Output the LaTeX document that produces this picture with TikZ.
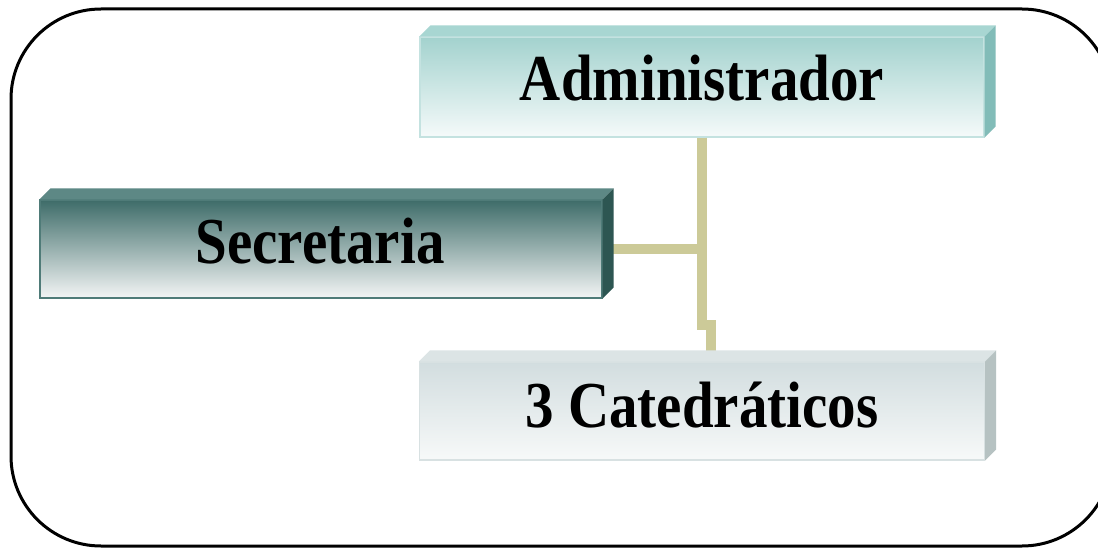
\documentclass[tikz,border=0pt]{standalone}
\usepackage{fontspec}
\setmainfont{Liberation Serif}
\definecolor{connc}{HTML}{CCCA98}
\definecolor{admtop}{HTML}{A3D2CE}
\definecolor{admbot}{HTML}{F5FAFA}
\definecolor{admface}{HTML}{A8D6D2}
\definecolor{admside}{HTML}{82BCB8}
\definecolor{admline}{HTML}{C4E2E0}
\definecolor{sectop}{HTML}{3E6C69}
\definecolor{secbot}{HTML}{F3F5F5}
\definecolor{secface}{HTML}{5D8885}
\definecolor{secside}{HTML}{2D5652}
\definecolor{secline}{HTML}{4F7B78}
\definecolor{cattop}{HTML}{D2DDDF}
\definecolor{catbot}{HTML}{F7F9F9}
\definecolor{catface}{HTML}{DCE4E5}
\definecolor{catside}{HTML}{B6C2C2}
\definecolor{catline}{HTML}{D8E1E2}
\newcommand\boxfaces[3]{%
  \fill[#2] (#1.north west) -- ++(11,-11) -- ([shift={(11,-11)}]#1.north east) -- (#1.north east) -- cycle;
  \fill[#3] (#1.north east) -- ++(11,-11) -- ([shift={(11,-11)}]#1.south east) -- (#1.south east) -- cycle;}
\begin{document}
\begin{tikzpicture}[x=1pt,y=-1pt,
  box/.style={rectangle, inner sep=0pt, minimum width=564pt, minimum height=100pt, line width=1.2pt},
  lbl/.style={anchor=base, font=\fontsize{57}{60}\selectfont\bfseries, inner sep=0pt, text=black},
  conn/.style={draw=connc, line width=10pt, line join=miter},
  frame/.style={draw=black, line width=3pt, rounded corners=90pt}]
\useasboundingbox (0,0) rectangle (1098,548);
\clip (0,0) rectangle (1098,548);
\fill[white] (0,0) rectangle (1098,548);
\draw[frame] (11,9) rectangle (1112,546);
% front faces (nodes)
\node[box, draw=admline, top color=admtop, bottom color=admbot] (adm) at (702,87) {};
\node[box, draw=secline, top color=sectop, bottom color=secbot, minimum width=562pt, minimum height=98pt] (sec) at (321,249) {};
\node[box, draw=catline, top color=cattop, bottom color=catbot, minimum width=565pt, minimum height=98pt] (cat) at (702,411) {};
% connectors (behind boxes' faces)
\begin{scope}[on background layer/.try]
\end{scope}
\draw[conn] (adm.south) -- ++(0,187) -- ++(9,0) -- (cat.north -| 711,0);
\draw[conn] (sec.east) -- (sec.east -| adm.south);
\boxfaces{adm}{admface}{admside}
\boxfaces{sec}{secface}{secside}
\boxfaces{cat}{catface}{catside}
% labels
\node[lbl] (admt) at (702,101) {\scalebox{1}[1.15]{Administrador}};
\node[lbl] (sect) at (320,264) {\scalebox{1}[1.15]{Secretaria}};
\node[lbl] (catt) at (702,427) {\scalebox{1}[1.15]{3 Catedráticos}};
\end{tikzpicture}
\end{document}
